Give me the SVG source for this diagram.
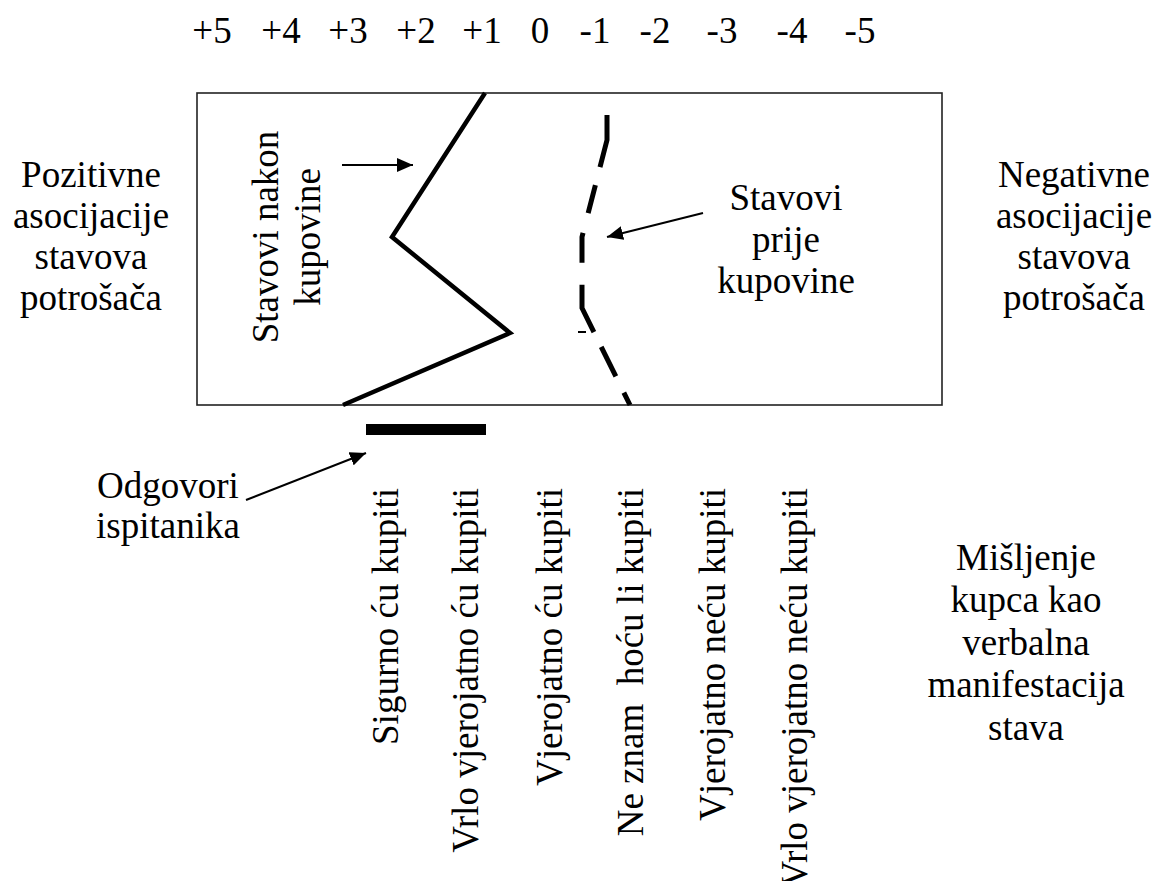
<svg xmlns="http://www.w3.org/2000/svg" width="1156" height="881" viewBox="0 0 1156 881">
<style>
text{font-family:'Liberation Serif','Times New Roman','DejaVu Serif',serif;font-size:37px;fill:#000}
.m{text-anchor:middle}
.e{text-anchor:end}
.thin{fill:none;stroke:#000;stroke-width:2}
</style>
<defs>
<marker id="ah" viewBox="0 0 16 14" refX="16" refY="7" markerWidth="16" markerHeight="14" markerUnits="userSpaceOnUse" orient="auto">
<path d="M0,0 L16,7 L0,14 Z" fill="#000"/>
</marker>
</defs>
<rect width="1156" height="881" fill="#fff"/>
<g font-family="'Liberation Serif','Times New Roman','DejaVu Serif',serif">
<g id="scale">
<text class="m" x="212" y="43">+5</text>
<text class="m" x="281" y="43">+4</text>
<text class="m" x="348" y="43">+3</text>
<text class="m" x="416" y="43">+2</text>
<text class="m" x="482" y="43">+1</text>
<text class="m" x="540" y="43">0</text>
<text class="m" x="595" y="43">-1</text>
<text class="m" x="655" y="43">-2</text>
<text class="m" x="722" y="43">-3</text>
<text class="m" x="792" y="43">-4</text>
<text class="m" x="860" y="43">-5</text>
</g>
<g id="frame">
<rect x="197" y="93" width="745" height="312" fill="none" stroke="#222" stroke-width="1.6"/>
</g>
<g id="left-label">
<text class="m" x="91" y="187">Pozitivne</text>
<text class="m" x="91" y="228">asocijacije</text>
<text class="m" x="91" y="269">stavova</text>
<text class="m" x="91" y="310">potrošača</text>
</g>
<g id="right-label">
<text class="m" x="1074" y="187">Negativne</text>
<text class="m" x="1074" y="228">asocijacije</text>
<text class="m" x="1074" y="269">stavova</text>
<text class="m" x="1074" y="310">potrošača</text>
</g>
<g id="after-label">
<text class="m" transform="translate(278,237) rotate(-90)">Stavovi nakon</text>
<text class="m" transform="translate(320,237) rotate(-90)">kupovine</text>
</g>
<g id="before-label">
<text class="m" x="786" y="210">Stavovi</text>
<text class="m" x="786" y="252">prije</text>
<text class="m" x="786" y="293">kupovine</text>
</g>
<g id="respondents-label">
<text class="m" x="168" y="498">Odgovori</text>
<text class="m" x="168" y="538">ispitanika</text>
</g>
<g id="opinion-label">
<text class="m" x="1026" y="570">Mišljenje</text>
<text class="m" x="1026" y="612">kupca kao</text>
<text class="m" x="1026" y="655">verbalna</text>
<text class="m" x="1026" y="697">manifestacija</text>
<text class="m" x="1026" y="740">stava</text>
</g>
<g id="answers">
<text class="e" transform="translate(398,488) rotate(-90)">Sigurno ću kupiti</text>
<text class="e" transform="translate(478,488) rotate(-90)">Vrlo vjerojatno ću kupiti</text>
<text class="e" transform="translate(562,488) rotate(-90)">Vjerojatno ću kupiti</text>
<text class="e" transform="translate(643,488) rotate(-90)" xml:space="preserve">Ne znam  hoću li kupiti</text>
<text class="e" transform="translate(725,488) rotate(-90)">Vjerojatno neću kupiti</text>
<text class="e" transform="translate(807,488) rotate(-90)">Vrlo vjerojatno neću kupiti</text>
</g>
</g>
<g id="answer-bar">
<rect x="366" y="424" width="120" height="11" fill="#000"/>
</g>
<g id="connectors">
<polyline points="485,93 392,237 510,333 343,405" fill="none" stroke="#000" stroke-width="4.5" stroke-linejoin="miter"/>
<polyline points="607,115 607,140 582,237 582,308 630,405" fill="none" stroke="#000" stroke-width="5" stroke-dasharray="53 18.5 29 20.5 30 22 50 16.5 33 18 20"/>
<line x1="578" y1="332" x2="586" y2="332" stroke="#000" stroke-width="2"/>
<line class="thin" x1="342" y1="165" x2="413" y2="165" marker-end="url(#ah)"/>
<line class="thin" x1="703" y1="213" x2="607" y2="237" marker-end="url(#ah)"/>
<line class="thin" x1="246" y1="500" x2="366" y2="453" marker-end="url(#ah)"/>
</g>
</svg>
